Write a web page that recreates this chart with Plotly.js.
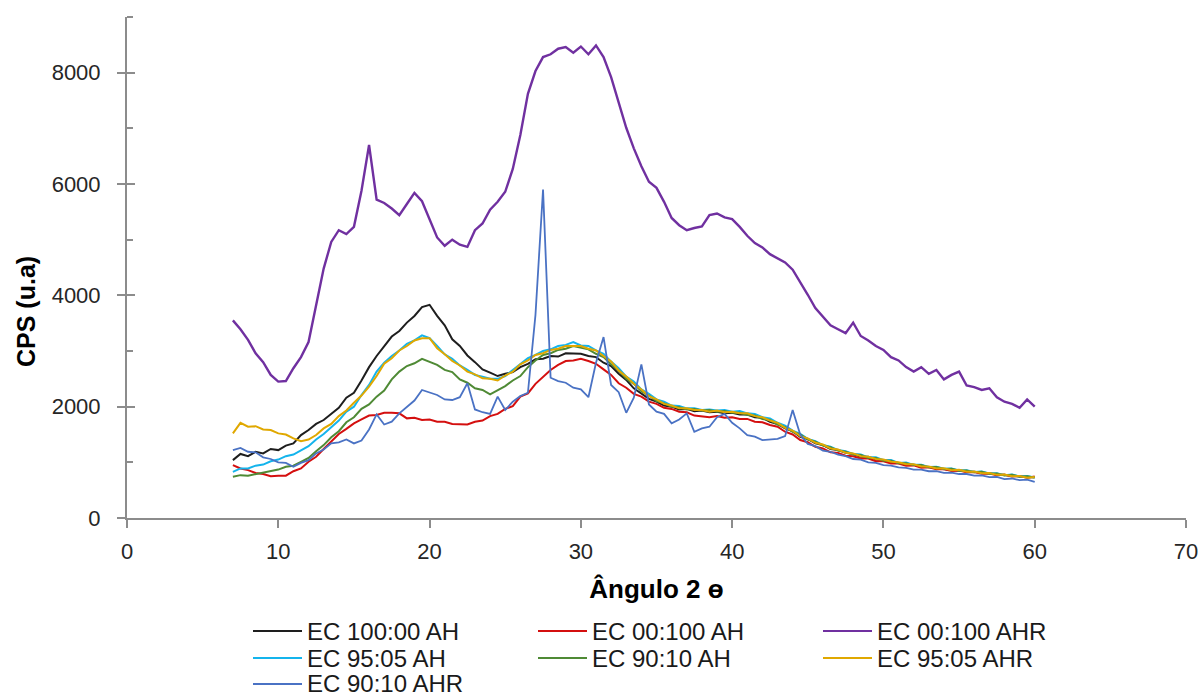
<!DOCTYPE html>
<html>
<head>
<meta charset="utf-8">
<script src="https://cdn.plot.ly/plotly-3.0.1.min.js"></script>
<style>html,body{margin:0;padding:0;background:#fff;}#chart{width:1201px;height:699px;}</style>
</head>
<body>
<div id="chart"></div>
<script>
// 2-theta angle (degrees)
const angle = [
7,7.5,8,8.5,9,9.5,10,10.5,11,11.5,
12,12.5,13,13.5,14,14.5,15,15.5,16,16.5,
17,17.5,18,18.5,19,19.5,20,20.5,21,21.5,
22,22.5,23,23.5,24,24.5,25,25.5,26,26.5,
27,27.5,28,28.5,29,29.5,30,30.5,31,31.5,
32,32.5,33,33.5,34,34.5,35,35.5,36,36.5,
37,37.5,38,38.5,39,39.5,40,40.5,41,41.5,
42,42.5,43,43.5,44,44.5,45,45.5,46,46.5,
47,47.5,48,48.5,49,49.5,50,50.5,51,51.5,
52,52.5,53,53.5,54,54.5,55,55.5,56,56.5,
57,57.5,58,58.5,59,59.5,60];

const ec100_00_AH = [
1040,1150,1110,1190,1160,1240,1220,1300,1340,1490,
1580,1690,1760,1870,1980,2160,2250,2470,2710,2910,
3090,3260,3360,3510,3630,3790,3830,3630,3460,3210,
3090,2920,2800,2670,2610,2550,2590,2620,2710,2770,
2850,2860,2910,2900,2960,2950,2950,2910,2890,2790,
2730,2590,2480,2330,2240,2140,2090,2020,2000,1950,
1960,1920,1930,1900,1910,1880,1890,1860,1860,1810,
1800,1730,1690,1610,1560,1460,1420,1340,1310,1240,
1220,1170,1150,1100,1100,1050,1040,1000,990,965,
955,925,915,895,885,860,855,835,830,810,
805,780,775,755,750,730,730];

const ec00_100_AH = [
950,890,860,810,790,750,760,760,840,890,
1010,1100,1240,1370,1510,1600,1700,1770,1840,1850,
1890,1890,1880,1790,1800,1760,1770,1730,1730,1690,
1690,1680,1730,1750,1830,1870,1960,2010,2180,2240,
2410,2530,2660,2750,2820,2830,2860,2820,2770,2670,
2570,2420,2340,2230,2180,2090,2050,1980,1960,1910,
1900,1840,1830,1810,1830,1800,1810,1780,1780,1730,
1720,1670,1640,1550,1500,1400,1360,1280,1250,1180,
1170,1120,1110,1070,1070,1020,1020,980,980,940,
945,905,910,875,880,845,855,820,825,795,
800,770,775,745,755,725,745];

const ec00_100_AHR = [
3550,3390,3200,2960,2800,2570,2450,2460,2690,2890,
3160,3830,4480,4960,5170,5100,5230,5880,6700,5720,
5660,5560,5440,5640,5840,5690,5360,5040,4890,5000,
4910,4870,5170,5290,5540,5680,5860,6270,6880,7620,
8030,8280,8330,8430,8460,8360,8470,8330,8490,8280,
7920,7440,7010,6640,6320,6040,5930,5680,5390,5260,
5170,5210,5240,5440,5470,5400,5370,5230,5070,4940,
4860,4740,4660,4590,4460,4240,4010,3770,3610,3460,
3390,3320,3510,3270,3190,3090,3020,2890,2830,2710,
2630,2710,2590,2660,2490,2570,2630,2380,2350,2300,
2330,2170,2090,2050,1980,2130,2000];

const ec95_05_AH = [
830,890,890,940,960,1020,1050,1110,1140,1220,
1290,1410,1510,1630,1750,1910,2000,2210,2390,2630,
2790,2910,3010,3130,3190,3280,3230,3090,2940,2860,
2740,2660,2570,2540,2500,2500,2550,2660,2760,2870,
2930,3000,3030,3090,3110,3160,3100,3090,3010,2950,
2810,2690,2540,2450,2310,2230,2130,2090,2020,2010,
1970,1970,1940,1950,1930,1940,1910,1920,1880,1870,
1810,1790,1710,1660,1570,1510,1420,1380,1310,1280,
1220,1200,1150,1140,1090,1090,1040,1040,990,995,
955,955,915,920,885,890,855,860,825,835,
800,805,770,780,745,755,730];

const ec90_10_AH = [
740,770,760,790,810,850,870,920,940,1010,
1080,1200,1310,1450,1560,1720,1810,1960,2040,2180,
2290,2490,2630,2730,2780,2860,2810,2750,2660,2620,
2490,2430,2330,2300,2220,2290,2370,2470,2550,2710,
2830,2930,2960,3020,3040,3090,3060,3030,2950,2890,
2760,2650,2500,2410,2280,2200,2100,2060,2000,1990,
1950,1960,1930,1940,1910,1920,1890,1890,1850,1840,
1780,1760,1680,1630,1550,1500,1410,1370,1300,1270,
1210,1190,1140,1130,1080,1080,1030,1030,985,985,
950,950,910,915,880,885,850,855,820,830,
795,800,765,775,740,750,725];

const ec95_05_AHR = [
1520,1710,1640,1650,1590,1580,1520,1500,1430,1380,
1410,1490,1610,1690,1830,1930,2070,2200,2360,2550,
2770,2870,3010,3090,3190,3230,3230,3050,2940,2820,
2740,2630,2580,2510,2500,2470,2560,2630,2760,2830,
2930,2960,3020,3040,3090,3090,3090,3040,3010,2910,
2810,2650,2540,2410,2310,2190,2130,2050,2020,1970,
1970,1940,1940,1910,1930,1900,1910,1880,1880,1830,
1810,1750,1710,1620,1570,1470,1430,1350,1320,1250,
1230,1170,1160,1110,1100,1060,1050,1010,1000,965,
965,925,925,890,895,860,865,830,835,805,
810,775,780,750,755,725,735];

const ec90_10_AHR = [
1220,1260,1190,1180,1090,1060,1000,990,920,990,
1040,1160,1230,1340,1360,1410,1340,1390,1590,1860,
1680,1730,1880,1990,2110,2300,2250,2210,2130,2120,
2170,2420,1950,1900,1870,2180,1940,2090,2190,2250,
3650,5900,2520,2460,2430,2340,2310,2170,2790,3250,
2390,2260,1890,2160,2760,2040,1910,1870,1700,1770,
1880,1550,1610,1640,1810,1870,1710,1610,1490,1460,
1400,1410,1420,1470,1940,1500,1330,1290,1210,1190,
1140,1110,1060,1050,1000,990,950,940,910,900,
870,870,840,840,810,815,790,790,760,765,
735,740,700,710,680,690,650];

const seriesNames = ["EC 100:00 AH","EC 00:100 AH","EC 00:100 AHR","EC 95:05 AH","EC 90:10 AH","EC 95:05 AHR","EC 90:10 AHR"];
const seriesValues = [ec100_00_AH, ec00_100_AH, ec00_100_AHR, ec95_05_AH, ec90_10_AH, ec95_05_AHR, ec90_10_AHR];
const seriesColors = ["#1e1e1e","#d40f0f","#7030a0","#14b4ec","#4f8a35","#e0a800","#4a72c4"];
const seriesWidths = [2, 2, 2.4, 2, 2, 2, 1.8];
const xTickVals = [0,10,20,30,40,50,60,70];
const yTickVals = [0,2000,4000,6000,8000];

// layout geometry (pixels)
const W = 1201, H = 699, L = 127, R = 15, T = 17, B = 181;
const pw = W - L - R, ph = H - T - B;
const px2x = p => (p - L) / pw;
const py2y = p => (H - B - p) / ph;

const traces = seriesValues.map((vals, i) => ({
  type: 'scatter', mode: 'lines', name: seriesNames[i],
  x: angle, y: vals,
  line: {color: seriesColors[i], width: seriesWidths[i]},
  showlegend: false
}));
// helper trace for the inner half of the y major ticks
traces.push({type:'scatter', x:[null], y:[null], yaxis:'y2', showlegend:false, hoverinfo:'skip'});

const axisGray = '#8c8c8c';
const shapes = [];
const annotations = [];
const colStart = [253, 538, 823];
const rowY = [631, 658, 684];
seriesNames.forEach((nm, i) => {
  const c = i % 3, r = Math.floor(i / 3);
  const x0 = colStart[c];
  shapes.push({type:'line', xref:'paper', yref:'paper',
    x0: px2x(x0), x1: px2x(x0 + 49), y0: py2y(rowY[r]), y1: py2y(rowY[r]),
    line:{color: seriesColors[i], width: 2}});
  annotations.push({xref:'paper', yref:'paper', x: px2x(x0 + 52), y: py2y(rowY[r]),
    xanchor:'left', yanchor:'middle', showarrow:false, text: nm,
    font:{family:'Liberation Sans, Arial, sans-serif', size:24, color:'#1a1a1a'}});
});
annotations.push({xref:'paper', yref:'paper', x: px2x(26), y: py2y(312),
  xanchor:'center', yanchor:'middle', showarrow:false, textangle:-90,
  text:'<b>CPS (u.a)</b>',
  font:{family:'Liberation Sans, Arial, sans-serif', size:25, color:'#000'}});

const layout = {
  width: W, height: H,
  margin: {l: L, r: R, t: T, b: B},
  paper_bgcolor: '#fff', plot_bgcolor: '#fff',
  showlegend: false,
  font: {family: 'Liberation Sans, Arial, sans-serif', color: '#262626'},
  xaxis: {
    range: [0, 70], tickvals: xTickVals, ticktext: xTickVals.map(String),
    showgrid: false, zeroline: false, showline: true, linecolor: axisGray, linewidth: 2,
    ticks: 'outside', ticklen: 8, tickwidth: 2, tickcolor: axisGray,
    tickfont: {size: 22, color: '#262626'}, ticklabelstandoff: 5,
    title: {text: '<b>Ângulo 2 ɵ</b>', font: {size: 26, color: '#000'}, standoff: 16}
  },
  yaxis: {
    range: [0, 9000], tickvals: yTickVals, ticktext: yTickVals.map(String),
    showgrid: false, zeroline: false, showline: true, linecolor: axisGray, linewidth: 2,
    ticks: 'outside', ticklen: 8, tickwidth: 2, tickcolor: axisGray,
    tickfont: {size: 22, color: '#262626'}, ticklabelstandoff: 12,
    minor: {tickvals: [1000,3000,5000,7000,9000], ticks: 'inside', ticklen: 6, tickwidth: 2, tickcolor: axisGray, showgrid: false}
  },
  yaxis2: {
    overlaying: 'y', side: 'left', range: [0, 9000], tickvals: yTickVals,
    showticklabels: false, showgrid: false, zeroline: false, showline: false,
    ticks: 'inside', ticklen: 8, tickwidth: 2, tickcolor: axisGray
  },
  shapes: shapes,
  annotations: annotations
};

Plotly.newPlot('chart', traces, layout, {displayModeBar: false, staticPlot: true});
</script>
</body>
</html>
